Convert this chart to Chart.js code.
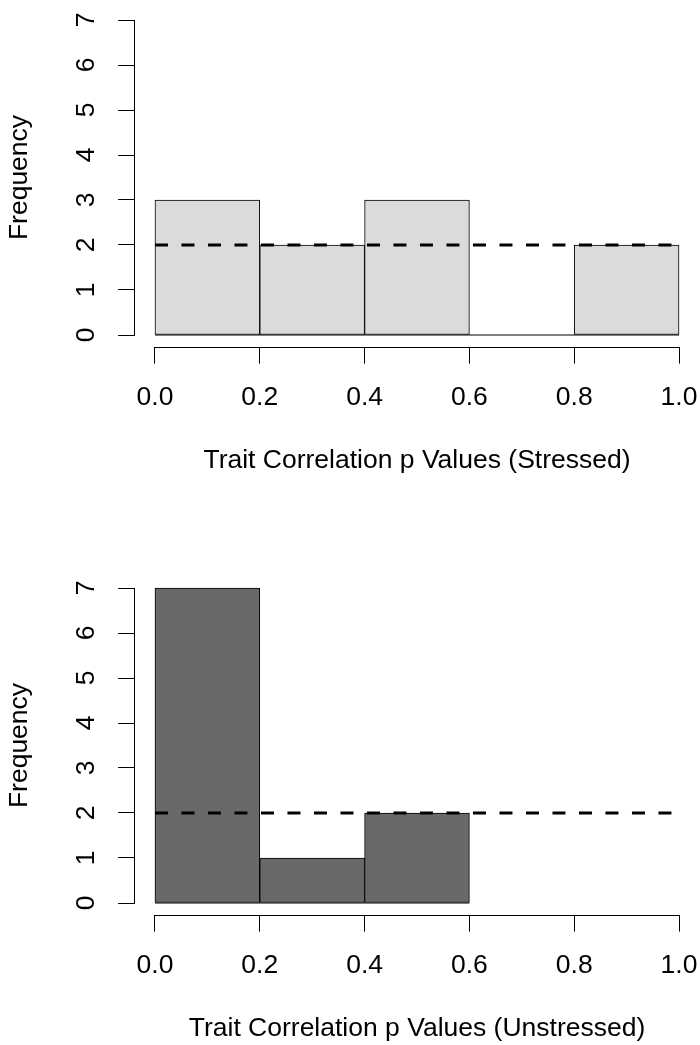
<!DOCTYPE html>
<html>
<head>
<meta charset="utf-8">
<script src="https://cdn.jsdelivr.net/npm/chart.js@4"></script>
<style>
  html, body { margin:0; padding:0; background:#fff; }
  #wrap { position:relative; width:700px; height:1045px; }
  canvas { position:absolute; left:0; }
</style>
</head>
<body>
<div id="wrap">
  <canvas id="histStressed" width="700" height="477" style="top:0"></canvas>
  <canvas id="histUnstressed" width="700" height="477" style="top:568px"></canvas>
</div>
<script>
// histogram bins (break points) and counts
const breaksStressed = [0, 0.2, 0.4, 0.6, 0.8, 1.0];
const countsStressed = [3, 2, 3, 0, 2];
const breaksUnstressed = [0, 0.2, 0.4, 0.6];
const countsUnstressed = [7, 1, 2];
const refLevel = 2; // dashed reference line
const xTicks = [0, 0.2, 0.4, 0.6, 0.8, 1.0];
const xTickLabels = ['0.0', '0.2', '0.4', '0.6', '0.8', '1.0'];
const yTicks = [0, 1, 2, 3, 4, 5, 6, 7];

const FONT = "'Liberation Sans', Arial, Helvetica, sans-serif";
const FS = 26.5;
Chart.defaults.font.family = FONT;
Chart.defaults.color = '#000';

// R style axes: line only spans the tick range, offset from the data
const rAxisLines = {
  id: 'rAxisLines',
  afterDraw(chart) {
    const {ctx, chartArea, scales: {x, y}} = chart;
    const al = v => Math.round(v - 0.5) + 0.5;
    ctx.save();
    ctx.strokeStyle = '#000';
    ctx.lineWidth = 1;
    ctx.lineCap = 'square';
    ctx.beginPath();
    const ax = al(chartArea.left);
    ctx.moveTo(ax, al(y.getPixelForValue(yTicks[0])));
    ctx.lineTo(ax, al(y.getPixelForValue(yTicks[yTicks.length - 1])));
    const ay = al(chartArea.bottom);
    ctx.moveTo(al(x.getPixelForValue(xTicks[0])), ay);
    ctx.lineTo(al(x.getPixelForValue(xTicks[xTicks.length - 1])), ay);
    ctx.stroke();
    ctx.restore();
  }
};

function makeHist(id, breaks, counts, fill, xTitle) {
  const yPad = 0.04 * (yTicks[yTicks.length - 1] - yTicks[0]);
  const xPad = 0.04 * (xTicks[xTicks.length - 1] - xTicks[0]);
  const bars = counts.map((c, i) => ({ x: (breaks[i] + breaks[i + 1]) / 2, y: c }));
  const lo = breaks[0], hi = breaks[breaks.length - 1];

  return new Chart(document.getElementById(id), {
    type: 'bar',
    data: {
      datasets: [
        { type: 'line', data: [{x: xTicks[0], y: refLevel}, {x: xTicks[xTicks.length - 1], y: refLevel}],
          borderColor: '#000', borderWidth: 3, borderDash: [13, 13.5], pointRadius: 0, fill: false, order: 1 },
        { data: bars, backgroundColor: fill, borderColor: '#000', borderWidth: 1,
          borderSkipped: false, barPercentage: 1, categoryPercentage: 1, order: 2 },
        { type: 'line', data: [{x: lo, y: 0}, {x: hi, y: 0}],
          borderColor: '#000', borderWidth: 1, pointRadius: 0, fill: false, order: 3 }
      ]
    },
    options: {
      responsive: false, animation: false, devicePixelRatio: 1, events: [],
      layout: { autoPadding: false, padding: { top: 7.4, left: 0, right: 0, bottom: 0 } },
      plugins: { legend: { display: false }, tooltip: { enabled: false } },
      scales: {
        x: {
          type: 'linear', min: xTicks[0] - xPad, max: xTicks[xTicks.length - 1] + xPad,
          offset: false, bounds: 'data',
          afterBuildTicks: s => { s.ticks = xTicks.map(v => ({ value: v })); },
          afterFit: s => { s.height = 129.4; s.paddingLeft = s.paddingRight = 0; },
          border: { display: false },
          grid: { offset: false, drawOnChartArea: false, drawTicks: true, tickLength: 16, color: '#000', lineWidth: 1 },
          ticks: { autoSkip: false, maxRotation: 0, padding: 18, font: { size: FS },
                   callback: (v, i) => xTickLabels[i] },
          title: { display: true, text: xTitle, font: { size: FS }, padding: { top: 0, bottom: 0 } }
        },
        y: {
          type: 'linear', min: yTicks[0] - yPad, max: yTicks[yTicks.length - 1] + yPad, bounds: 'data',
          afterBuildTicks: s => { s.ticks = yTicks.map(v => ({ value: v })); },
          afterFit: s => { s.width = 134; s.paddingTop = s.paddingBottom = 0; },
          border: { display: false },
          grid: { drawOnChartArea: false, drawTicks: true, tickLength: 16, color: '#000', lineWidth: 1 },
          ticks: { autoSkip: false, minRotation: 90, maxRotation: 90, crossAlign: 'center', padding: 24,
                   font: { size: FS }, callback: v => String(v) },
          title: { display: true, text: 'Frequency', font: { size: FS }, padding: { top: 4, bottom: 0 } }
        }
      }
    },
    plugins: [rAxisLines]
  });
}

makeHist('histStressed', breaksStressed, countsStressed, '#dbdbdb', 'Trait Correlation p Values (Stressed)');
makeHist('histUnstressed', breaksUnstressed, countsUnstressed, '#696969', 'Trait Correlation p Values (Unstressed)');
</script>
</body>
</html>
